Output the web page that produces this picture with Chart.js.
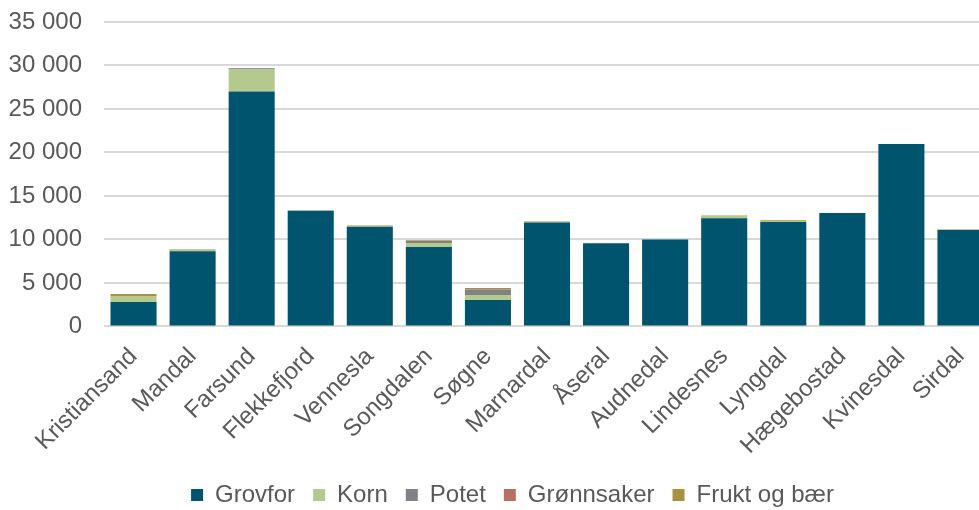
<!DOCTYPE html>
<html>
<head>
<meta charset="utf-8">
<script src="https://cdn.jsdelivr.net/npm/chart.js@4"></script>
<style>
  html, body { margin: 0; padding: 0; background: #fff; overflow: hidden; }
  #wrap { width: 990px; height: 510px; }
</style>
</head>
<body>
<div id="wrap"><canvas id="myChart" width="990" height="510"></canvas></div>
<script>
// Kommuner (x-aksen)
const categories = ['Kristiansand', 'Mandal', 'Farsund', 'Flekkefjord', 'Vennesla', 'Songdalen', 'Søgne',
  'Marnardal', 'Åseral', 'Audnedal', 'Lindesnes', 'Lyngdal', 'Hægebostad', 'Kvinesdal', 'Sirdal'];

// Verdier per produksjon, lest av bildet
const grovfor    = [2800, 8650, 27000, 13300, 11450, 9140, 3030, 11950, 9560, 9990, 12440, 12020, 13050, 20970, 11100];
const korn       = [690, 200, 2550, 50, 100, 460, 580, 100, 0, 0, 350, 90, 0, 0, 50];
const potet      = [0, 0, 120, 0, 0, 230, 650, 0, 0, 0, 0, 0, 0, 0, 0];
const gronnsaker = [0, 0, 0, 0, 0, 0, 60, 0, 0, 0, 0, 0, 0, 0, 0];
const frukt      = [230, 50, 50, 0, 60, 70, 110, 50, 0, 0, 0, 100, 0, 0, 60];

const yTicks = [0, 5000, 10000, 15000, 20000, 25000, 30000, 35000];

const textColor = '#595959';
const fontFamily = 'Liberation Sans, Arial, sans-serif';

function fmt(n) {
  return String(n).replace(/\B(?=(\d{3})+(?!\d))/g, ' ');
}

function makeSet(label, data, color) {
  return {
    label: label,
    data: data,
    backgroundColor: color,
    borderWidth: 0,
    barPercentage: 0.78,
    categoryPercentage: 1.0
  };
}

const chartData = {
  labels: categories,
  datasets: [
    makeSet('Grovfor', grovfor, '#00546E'),
    makeSet('Korn', korn, '#B3C98E'),
    makeSet('Potet', potet, '#818187'),
    makeSet('Grønnsaker', gronnsaker, '#B86F63'),
    makeSet('Frukt og bær', frukt, '#A89140')
  ]
};

// flytt legenden litt, som i originalen
const legendShift = {
  id: 'legendShift',
  afterLayout(chart) {
    const lg = chart.legend;
    lg.left += 13; lg.right += 13;
    lg.top += 7; lg.bottom += 7;
  }
};

const ctx = document.getElementById('myChart');

new Chart(ctx, {
  type: 'bar',
  data: chartData,
  plugins: [legendShift],
  options: {
    responsive: false,
    animation: false,
    devicePixelRatio: 1,
    layout: { padding: { top: 22, left: 9, right: 0, bottom: 0 } },
    plugins: {
      tooltip: { enabled: false },
      legend: {
        position: 'bottom',
        labels: {
          color: textColor,
          font: { family: fontFamily, size: 24 },
          boxWidth: 12,
          boxHeight: 12,
          padding: 18
        }
      }
    },
    scales: {
      x: {
        stacked: true,
        grid: { display: false },
        border: { display: false },
        afterFit: s => { s.paddingLeft = 0; s.paddingRight = 0; s.height -= 10; },
        ticks: {
          color: textColor,
          font: { family: fontFamily, size: 24 },
          minRotation: 45,
          maxRotation: 45,
          autoSkip: false,
          padding: 8
        }
      },
      y: {
        stacked: true,
        min: 0,
        max: 35000,
        afterBuildTicks: axis => { axis.ticks = yTicks.map(v => ({ value: v })); },
        afterFit: s => { s.paddingTop = 0; s.paddingBottom = 0; s.width = 95; },
        grid: { color: '#d9d9d9', lineWidth: 2, drawTicks: false },
        border: { display: false },
        ticks: {
          color: textColor,
          font: { family: fontFamily, size: 24 },
          padding: 22,
          callback: v => fmt(v)
        }
      }
    }
  }
});
</script>
</body>
</html>
